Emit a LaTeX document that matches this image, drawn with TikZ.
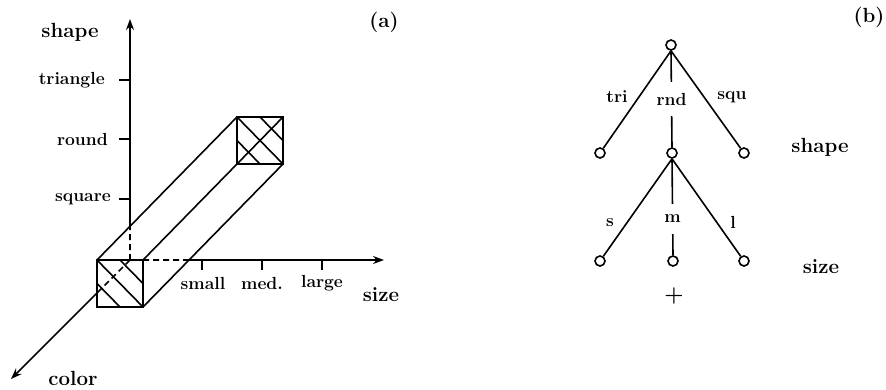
\documentclass[tikz,border=0pt]{standalone}
\usetikzlibrary{arrows.meta,calc}
\begin{document}
\begin{tikzpicture}[x=1pt,y=-1pt,
  ln/.style={line width=1.6pt},
  dsh/.style={line width=1.6pt,dash pattern=on 6pt off 4pt},
  arr/.style={line width=1.6pt,-{Stealth[length=11pt,width=8pt]}},
  big/.style={font=\fontsize{20.5}{24}\selectfont\bfseries,inner sep=0pt},
  sml/.style={font=\fontsize{17.5}{21}\selectfont\bfseries,inner sep=0pt},
  vert/.style={circle,draw,line width=1.6pt,minimum size=10pt,inner sep=0pt}]
\useasboundingbox (0,0) rectangle (886,389);
% ---------- panel (a) ----------
\coordinate (O) at (130,260);
\coordinate (vtop) at (130,19);
\coordinate (hend) at (384,260);
\coordinate (cend) at (11,379);
\coordinate (fTL) at (97,260);
\coordinate (fTR) at (143,260);
\coordinate (fBR) at (143,307);
\coordinate (fBL) at (97,307);
\coordinate (bTL) at (237,117);
\coordinate (bTR) at (283,117);
\coordinate (bBR) at (283,164);
\coordinate (bBL) at (237,164);
\coordinate (vX) at (intersection of fTL--bTL and O--vtop);
\coordinate (hX) at (intersection of fBR--bBR and O--hend);
\coordinate (cX) at (intersection of fTL--fBL and O--cend);
% axes
\draw[arr] (vX) -- (vtop);
\draw[dsh] (O) -- (vX);
\draw[dsh] (fTR) -- (hX);
\draw[arr] (hX) -- (hend);
\draw[dsh] (O) -- (cX);
\draw[arr] (cX) -- (cend);
% prism
\draw[ln] (fTL) rectangle (fBR);
\draw[ln] (bTL) rectangle (bBR);
\draw[ln] (fTL) -- (bTL);
\draw[ln] (fTR) -- (bBL) -- (bTR);
\draw[ln] (fBR) -- (bBR);
% hatching front
\draw[ln] (fTL) -- (fBR);
\draw[ln] ($(fTL)!0.5!(fTR)$) -- ($(fTR)!0.5!(fBR)$);
\draw[ln] ($(fTL)!0.5!(fBL)$) -- ($(fBL)!0.5!(fBR)$);
% hatching back
\draw[ln] (bTL) -- (bBR);
\draw[ln] ($(bTL)!0.5!(bTR)$) -- ($(bTR)!0.5!(bBR)$);
\draw[ln] ($(bTL)!0.5!(bBL)$) -- ($(bBL)!0.5!(bBR)$);
% ticks vertical
\foreach \y/\n in {80/tt,139/tr,199/ts} {
  \coordinate (\n) at (130,\y);
  \draw[ln] (\n) -- ++(-11,0);
}
\node[sml,anchor=east] (ltri) at (105,80) {triangle};
\node[sml,anchor=east] (lrnd) at (108,139) {round};
\node[sml,anchor=east] (lsqu) at (111,199) {square};
% ticks horizontal
\foreach \x/\n in {202/hs,262/hm,322/hl} {
  \coordinate (\n) at (\x,260);
  \draw[ln] (\n) -- ++(0,10);
}
\node[sml] (lsmall) at (203,283) {small};
\node[sml] (lmed) at (262,283) {med.};
\node[sml] (llarge) at (322,283) {large};
\node[big] (lshapea) at (70,32) {shape};
\node[big] (lsizea) at (381,295) {size};
\node[big] (lcolor) at (73,378) {color};
\node[big] (la) at (384,22) {(a)};
% ---------- panel (b) ----------
\node[vert] (R) at (671,45) {};
\node[vert] (A) at (600,153) {};
\node[vert] (B) at (672,153) {};
\node[vert] (C) at (744,153) {};
\node[vert] (D) at (600,261) {};
\node[vert] (E) at (673,261) {};
\node[vert] (F) at (744,261) {};
\draw[ln] (R.south) -- (A);
\draw[ln] (R.south) -- (C);
\draw[ln] (R.south) -- node[sml,fill=white,minimum height=34pt,pos=0.5] (lrndb) {rnd} (B.north);
\draw[ln] (B.south) -- (D);
\draw[ln] (B.south) -- (F);
\draw[ln] (B.south) -- node[sml,fill=white,minimum height=30pt,pos=0.62] (lm) {m} (E.north);
\node[sml] (ltrib) at (617,97) {tri};
\node[sml] (lsqub) at (732,97) {squ};
\node[sml] (ls) at (610,223) {s};
\node[sml] (ll) at (733,222) {l};
\node[font=\fontsize{22}{26}\selectfont\bfseries] (plus) at (674,296) {+};
\node[big] (lshapeb) at (820,147) {shape};
\node[big] (lsizeb) at (821,267) {size};
\node[big] (lb) at (869,17) {(b)};
\end{tikzpicture}
\end{document}
